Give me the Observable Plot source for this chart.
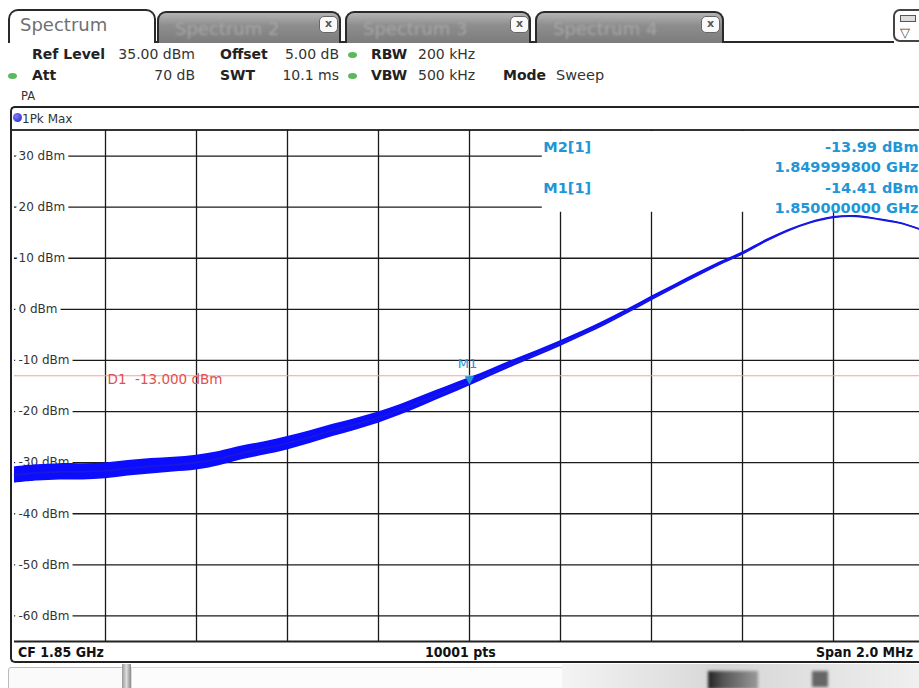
<!DOCTYPE html>
<html><head><meta charset="utf-8">
<script src="https://cdn.jsdelivr.net/npm/d3@7"></script>
<script src="https://cdn.jsdelivr.net/npm/@observablehq/plot@0.6"></script>
<style>
html,body{margin:0;padding:0;background:#fff;overflow:hidden;}
#page{position:relative;width:919px;height:688px;overflow:hidden;background:#fff;font-family:"DejaVu Sans",Verdana,sans-serif;color:#222;}
.abs{position:absolute;white-space:nowrap;}
.tab{position:absolute;top:11px;height:32px;border:2px solid #2a2a2a;border-bottom:none;border-radius:9px 9px 0 0;background:linear-gradient(#b4b4b4,#8e8e8e 40%,#7c7c7c);box-sizing:border-box;}
.xbox{position:absolute;top:3px;width:17px;height:15px;background:#fafafa;border:1px solid #666;border-radius:5px;font-size:11px;font-weight:bold;line-height:14px;text-align:center;color:#555;}
</style></head>
<body><div id="page"></div>
<script>
// ---------- data ----------
const freqMHz = [1849.00,1849.05,1849.10,1849.15,1849.20,1849.25,1849.30,1849.35,1849.40,1849.45,
  1849.50,1849.55,1849.60,1849.65,1849.70,1849.75,1849.80,1849.85,1849.90,1849.95,
  1850.00,1850.05,1850.10,1850.15,1850.20,1850.25,1850.30,1850.35,1850.40,1850.45,
  1850.50,1850.55,1850.60,1850.65,1850.70,1850.75,1850.80,1850.85,1850.90,1850.95,1851.00];
const traceDbm = [-32.4,-32.0,-31.8,-31.8,-31.6,-31.1,-30.7,-30.4,-30.0,-29.2,
  -28.1,-27.2,-26.2,-25.0,-23.7,-22.5,-21.2,-19.6,-17.8,-16.0,
  -14.2,-12.3,-10.4,-8.6,-6.7,-4.7,-2.6,-0.3,2.1,4.4,
  6.7,8.9,10.9,13.3,15.4,17.0,18.0,18.2,17.6,16.8,15.3];
const noiseDb = [3.2,3.2,3.2,3.2,3.1,3.0,3.0,2.9,2.9,2.8,
  2.7,2.6,2.6,2.5,2.4,2.3,2.2,2.1,2.0,1.8,
  1.6,1.4,1.3,1.2,1.1,1.0,1.0,0.9,0.9,0.8,
  0.8,0.7,0.6,0.5,0.4,0.3,0.3,0.3,0.3,0.3,0.3];
const levelTicks = [30,20,10,0,-10,-20,-30,-40,-50,-60];
const freqTicks = [1849.2,1849.4,1849.6,1849.8,1850.0,1850.2,1850.4,1850.6,1850.8];
const refLevel = 35, bottomLevel = -65;
const startMHz = 1849.0, stopMHz = 1851.0;
const displayLine = -13.000;
const markerNames = ["M2[1]", "M1[1]"];
const markerLevels = ["-13.99 dBm", "-14.41 dBm"];
const markerFreqs = ["1.849999800 GHz", "1.850000000 GHz"];
const m1 = {f: 1850.0, dbm: -14.41, name: "M1"};
const tableBox = {x1: 1850.16, x2: 1851.0, y1: 19, y2: 34.8};
const tabNames = ["Spectrum", "Spectrum 2", "Spectrum 3", "Spectrum 4"];

// ---------- chrome ----------
const page = document.getElementById("page");
function el(css, text, parent) {
  const d = document.createElement("div");
  d.className = "abs";
  Object.assign(d.style, css);
  if (text != null) d.textContent = text;
  (parent || page).appendChild(d);
  return d;
}
function txt(s, x, base, fs, o = {}) {
  const css = {fontSize: fs + "px", lineHeight: fs + "px", top: (base - 0.846 * fs) + "px",
    fontWeight: o.bold ? "bold" : "normal", color: o.color || "#222"};
  if (o.family) css.fontFamily = o.family;
  if (o.ls) css.letterSpacing = o.ls + "px";
  if (o.right != null) css.right = (919 - o.right) + "px"; else css.left = x + "px";
  return el(css, s);
}
// tabs
el({left: "8px", top: "9px", width: "148px", height: "34px", border: "2px solid #2a2a2a", borderBottom: "none",
  borderRadius: "10px 10px 0 0", background: "#fff", boxSizing: "border-box"});
txt(tabNames[0], 20, 31, 18, {color: "#707070"});
el({left: "154px", top: "41px", width: "740px", height: "2px", background: "#2a2a2a"});
const tabGeo = [[157, 184, 160], [345, 186, 163], [535, 189, 164]];
tabGeo.forEach(([x, w, xbLeft], i) => {
  const t = document.createElement("div");
  t.className = "tab"; t.style.left = x + "px"; t.style.width = w + "px";
  el({left: "16px", top: "5px", fontSize: "18px", color: "#a6a6a6", filter: "blur(0.9px)"}, tabNames[i + 1], t);
  const b = el({left: xbLeft + "px"}, "x", t);
  b.className = "xbox";
  page.appendChild(t);
});
// icon top right
el({left: "893px", top: "9px", width: "32px", height: "33px", border: "2px solid #444", borderRadius: "7px", background: "#fff", boxSizing: "border-box"});
el({left: "900px", top: "15px", width: "14px", height: "5px", border: "1.5px solid #555", background: "#ddd"});
txt("\u25BD", 900, 37, 13, {color: "#444"});

// header info
txt("Ref Level", 32, 59, 14, {bold: true});
txt("35.00 dBm", 0, 59, 14, {right: 195, color: "#333"});
txt("Offset", 220, 59, 14, {bold: true});
txt("5.00 dB", 0, 59, 14, {right: 339, color: "#333"});
el({left: "348px", top: "52px", width: "9px", height: "6px", borderRadius: "50%", background: "#5cb85c"});
txt("RBW", 371, 59, 14, {bold: true});
txt("200 kHz", 418, 59, 14, {color: "#333"});
el({left: "8px", top: "73px", width: "9px", height: "6px", borderRadius: "50%", background: "#5cb85c"});
txt("Att", 32, 80, 14, {bold: true});
txt("70 dB", 0, 80, 14, {right: 195, color: "#333"});
txt("SWT", 220, 80, 14, {bold: true});
txt("10.1 ms", 0, 80, 14, {right: 339, color: "#333"});
el({left: "348px", top: "73px", width: "9px", height: "6px", borderRadius: "50%", background: "#5cb85c"});
txt("VBW", 371, 80, 14, {bold: true});
txt("500 kHz", 418, 80, 14, {color: "#333"});
txt("Mode", 503, 80, 14, {bold: true});
txt("Sweep", 556, 80, 14.5, {color: "#333"});
txt("PA", 21, 101, 11.5, {color: "#333"});

// diagram frame
el({left: "10px", top: "106px", width: "930px", height: "557px", border: "2px solid #222", borderRight: "none",
  borderRadius: "5px 0 0 5px", boxSizing: "border-box"});
el({left: "13px", top: "113px", width: "9px", height: "9px", borderRadius: "50%", background: "radial-gradient(circle at 35% 35%, #7a7aff, #2222c0)"});
txt("1Pk Max", 22, 123, 12, {color: "#333"});
el({left: "12px", top: "129px", width: "910px", height: "2px", background: "#333"});
const cond = '"DejaVu Sans Condensed","Liberation Sans Narrow","DejaVu Sans",sans-serif';
txt("CF 1.85 GHz", 18, 657, 14, {bold: true, family: cond, color: "#111"});
txt("10001 pts", 425, 657, 14, {bold: true, family: cond, color: "#111"});
txt("Span 2.0 MHz", 0, 657, 14, {bold: true, family: cond, right: 913, color: "#111"});

// footer softkeys (blurred)
el({left: "8px", top: "667px", width: "114px", height: "30px", border: "1px solid #bbb", borderRadius: "3px", background: "#fafafa"});
el({left: "122px", top: "664px", width: "9px", height: "30px", background: "linear-gradient(to right,#999,#ddd,#888)"});
el({left: "131px", top: "667px", width: "430px", height: "30px", border: "1px solid #ddd", background: "#fcfcfc"});
el({left: "562px", top: "664px", width: "360px", height: "30px", background: "linear-gradient(to right,#f4f4f4,#d6d6d6 45%,#e4e4e4 75%,#f0f0f0)"});
el({left: "708px", top: "671px", width: "50px", height: "18px", background: "linear-gradient(to right,#222,#555 30%,#999)", filter: "blur(1.5px)"});
el({left: "812px", top: "671px", width: "16px", height: "16px", background: "#666", filter: "blur(1.5px)"});

// ---------- chart ----------
const trace = freqMHz.map((f, i) => ({f, dbm: traceDbm[i], lo: traceDbm[i] - noiseDb[i] / 2, hi: traceDbm[i] + noiseDb[i] / 2}));
const cyan = "#2196d6";
const chart = Plot.plot({
  width: 926, height: 513,
  marginLeft: 14, marginRight: 2, marginTop: 0, marginBottom: 2,
  x: {domain: [startMHz, stopMHz], axis: null},
  y: {domain: [bottomLevel, refLevel], axis: null},
  style: {background: "transparent", maxWidth: "none", overflow: "visible", fontFamily: "DejaVu Sans, sans-serif"},
  marks: [
    Plot.ruleX(freqTicks, {stroke: "#1a1a1a", strokeWidth: 1.3}),
    Plot.ruleY(levelTicks, {x1: startMHz, x2: stopMHz, stroke: "#1a1a1a", strokeWidth: 1.3}),
    Plot.ruleY([bottomLevel], {stroke: "#222", strokeWidth: 2}),
    Plot.rect([tableBox], {x1: "x1", x2: "x2", y1: "y1", y2: "y2", fill: "white"}),
    Plot.ruleY([displayLine], {stroke: "#f2a0a0", strokeWidth: 1}),
    Plot.text(levelTicks, {x: startMHz, y: d => d, text: d => `${d} dBm`, textAnchor: "start", dx: 4,
      fill: "#333", stroke: "white", strokeWidth: 8, strokeLinejoin: "round", paintOrder: "stroke", fontSize: 12}),
    Plot.text([displayLine], {x: freqTicks[0], y: d => d, text: d => `D1  ${d.toFixed(3)} dBm`, textAnchor: "start",
      dx: 2, dy: 4, fill: "#e05050", fontSize: 13.5, letterSpacing: 0.5}),
    Plot.areaY(trace, {x: "f", y1: "lo", y2: "hi", fill: "#0c0cff", curve: "catmull-rom"}),
    Plot.line(trace, {x: "f", y: "dbm", stroke: "#1a1ad8", strokeWidth: 1.6, curve: "catmull-rom"}),
    Plot.dot([m1], {x: "f", y: "dbm", symbol: "triangle", rotate: 180, r: 3.5, fill: cyan, dy: -4}),
    Plot.text([m1], {x: "f", y: "dbm", text: "name", dx: -2, dy: -19, fill: cyan, fontSize: 13}),
    Plot.text([markerNames.join("\n\n")], {x: tableBox.x1, frameAnchor: "top", textAnchor: "start", lineAnchor: "top",
      dx: 1, dy: 7, lineHeight: 1.4, fill: cyan, fontSize: 14.5, fontWeight: "bold", letterSpacing: 0.3}),
    Plot.text([markerLevels.map((l, i) => l + "\n" + markerFreqs[i]).join("\n")], {frameAnchor: "top-right", textAnchor: "end",
      lineAnchor: "top", dx: -6, dy: 7, lineHeight: 1.4, fill: cyan, fontSize: 14.5, fontWeight: "bold", letterSpacing: 0.6})
  ]
});
chart.style.position = "absolute"; chart.style.left = "0px"; chart.style.top = "130px";
page.appendChild(chart);
</script>
</body></html>
